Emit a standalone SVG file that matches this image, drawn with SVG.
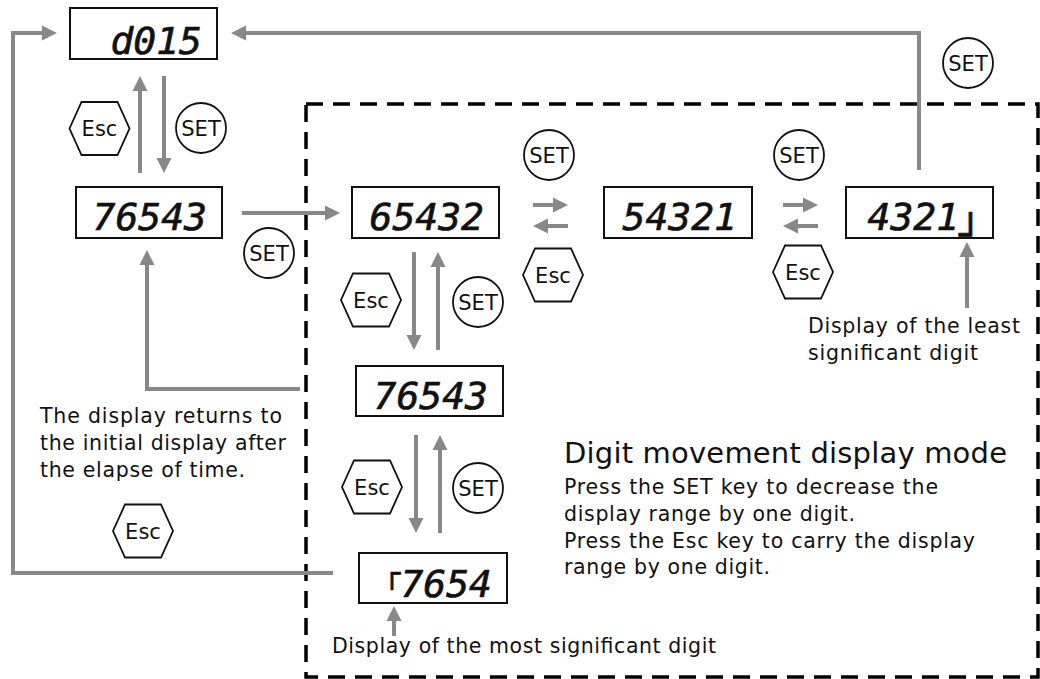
<svg xmlns="http://www.w3.org/2000/svg" width="1040" height="679" viewBox="0 0 1040 679">
<style>
  .box{fill:#fff;stroke:#111;stroke-width:2}
  .seg{font-family:"DejaVu Sans Mono",monospace;font-style:oblique;font-size:38px;fill:#111;stroke:#111;stroke-width:0.7;text-anchor:end}
  .btn{fill:#fff;stroke:#111;stroke-width:1.8}
  .bt{font-family:"DejaVu Sans",sans-serif;font-size:21px;fill:#111;text-anchor:middle}
  .lbl{font-family:"DejaVu Sans",sans-serif;font-size:20.5px;fill:#111}
  .head{font-family:"DejaVu Sans",sans-serif;font-size:29px;fill:#111}
  .arr{fill:none;stroke:#888;stroke-width:4;stroke-linejoin:miter;marker-end:url(#ah)}
  .dash{fill:none;stroke:#000;stroke-width:3.5;stroke-dasharray:17 10}
</style>
<defs>
  <marker id="ah" viewBox="0 -8 16 16" refX="1" refY="0" markerWidth="16" markerHeight="16" markerUnits="userSpaceOnUse" orient="auto">
    <path d="M0,-7.5 L15,0 L0,7.5 z" fill="#888"/>
  </marker>
</defs>

<rect class="dash" x="306" y="104" width="732" height="573"/>

<g id="connectors">
  <path class="arr" d="M140,173 V90"/>
  <path class="arr" d="M164,76 V159"/>
  <path class="arr" d="M242,213 H326"/>
  <path class="arr" d="M300,389 H147 V264"/>
  <path class="arr" d="M414,252 V336"/>
  <path class="arr" d="M438,350 V266"/>
  <path class="arr" d="M416,435 V519"/>
  <path class="arr" d="M440,533 V449"/>
  <path class="arr" d="M394,636 V620"/>
  <path class="arr" d="M967,308 V256"/>
  <path class="arr" d="M533,205 H554"/>
  <path class="arr" d="M568,226 H547"/>
  <path class="arr" d="M783,205 H804"/>
  <path class="arr" d="M818,226 H797"/>
  <path class="arr" d="M919,170 V33 H245"/>
  <path class="arr" d="M333,573 H13 V33 H43"/>
</g>

<g id="disp-d015"><rect class="box" x="70" y="8" width="147" height="51"/><text class="seg" x="202" y="54" font-size="36">d015</text></g>
<g id="disp-76543-a"><rect class="box" x="76" y="187" width="146" height="51"/><text class="seg" x="207" y="230">76543</text></g>
<g id="disp-65432"><rect class="box" x="352" y="187" width="147" height="51"/><text class="seg" x="484" y="230">65432</text></g>
<g id="disp-54321"><rect class="box" x="604" y="187" width="148" height="51"/><text class="seg" x="737" y="230">54321</text></g>
<g id="disp-4321"><rect class="box" x="846" y="187" width="147" height="51"/><text class="seg" x="982" y="230">4321<tspan font-size="38" dy="18">┘</tspan></text></g>
<g id="disp-76543-b"><rect class="box" x="356" y="366" width="147" height="50"/><text class="seg" x="488" y="409">76543</text></g>
<g id="disp-7654"><rect class="box" x="359" y="553" width="148" height="50"/><text class="seg" x="492" y="597"><tspan font-size="28" dy="-14">┌</tspan><tspan dy="14">7654</tspan></text></g>

<g id="btn-esc-1"><path class="btn" d="M69.5,128.5 L81.5,102 L117.5,102 L129.5,128.5 L117.5,155 L81.5,155 Z"/><text class="bt" x="99.5" y="136">Esc</text></g>
<g id="btn-set-1"><circle class="btn" cx="201" cy="128" r="25"/><text class="bt" x="201" y="135.5">SET</text></g>
<g id="btn-set-2"><circle class="btn" cx="269" cy="253" r="25"/><text class="bt" x="269" y="260.5">SET</text></g>
<g id="btn-set-3"><circle class="btn" cx="549" cy="155" r="25"/><text class="bt" x="549" y="162.5">SET</text></g>
<g id="btn-esc-3"><path class="btn" d="M523,275 L535,248.5 L571,248.5 L583,275 L571,301.5 L535,301.5 Z"/><text class="bt" x="553" y="282.5">Esc</text></g>
<g id="btn-set-4"><circle class="btn" cx="799" cy="155" r="25"/><text class="bt" x="799" y="162.5">SET</text></g>
<g id="btn-esc-4"><path class="btn" d="M773,272 L785,245.5 L821,245.5 L833,272 L821,298.5 L785,298.5 Z"/><text class="bt" x="803" y="279.5">Esc</text></g>
<g id="btn-set-5"><circle class="btn" cx="968" cy="63" r="25"/><text class="bt" x="968" y="70.5">SET</text></g>
<g id="btn-esc-2"><path class="btn" d="M341,300 L353,273.5 L389,273.5 L401,300 L389,326.5 L353,326.5 Z"/><text class="bt" x="371" y="307.5">Esc</text></g>
<g id="btn-set-6"><circle class="btn" cx="478" cy="302" r="25"/><text class="bt" x="478" y="309.5">SET</text></g>
<g id="btn-esc-5"><path class="btn" d="M342,487 L354,460.5 L390,460.5 L402,487 L390,513.5 L354,513.5 Z"/><text class="bt" x="372" y="494.5">Esc</text></g>
<g id="btn-set-7"><circle class="btn" cx="478" cy="488" r="25"/><text class="bt" x="478" y="495.5">SET</text></g>
<g id="btn-esc-6"><path class="btn" d="M113,531 L125,504.5 L161,504.5 L173,531 L161,557.5 L125,557.5 Z"/><text class="bt" x="143" y="538.5">Esc</text></g>

<g id="notes">
  <text class="lbl" x="40" y="423" textLength="242" lengthAdjust="spacing">The display returns to</text>
  <text class="lbl" x="40" y="450" textLength="246" lengthAdjust="spacing">the initial display after</text>
  <text class="lbl" x="40" y="477" textLength="205" lengthAdjust="spacing">the elapse of time.</text>
  <text class="lbl" x="808" y="333" textLength="212" lengthAdjust="spacing">Display of the least</text>
  <text class="lbl" x="808" y="360" textLength="170" lengthAdjust="spacing">significant digit</text>
  <text class="lbl" x="332" y="653" textLength="384" lengthAdjust="spacing">Display of the most significant digit</text>
  <text class="head" x="564" y="463" textLength="443" lengthAdjust="spacing">Digit movement display mode</text>
  <text class="lbl" x="564" y="494" textLength="374" lengthAdjust="spacing">Press the SET key to decrease the</text>
  <text class="lbl" x="564" y="521" textLength="291" lengthAdjust="spacing">display range by one digit.</text>
  <text class="lbl" x="564" y="548" textLength="411" lengthAdjust="spacing">Press the Esc key to carry the display</text>
  <text class="lbl" x="564" y="574" textLength="206" lengthAdjust="spacing">range by one digit.</text>
</g>
</svg>
